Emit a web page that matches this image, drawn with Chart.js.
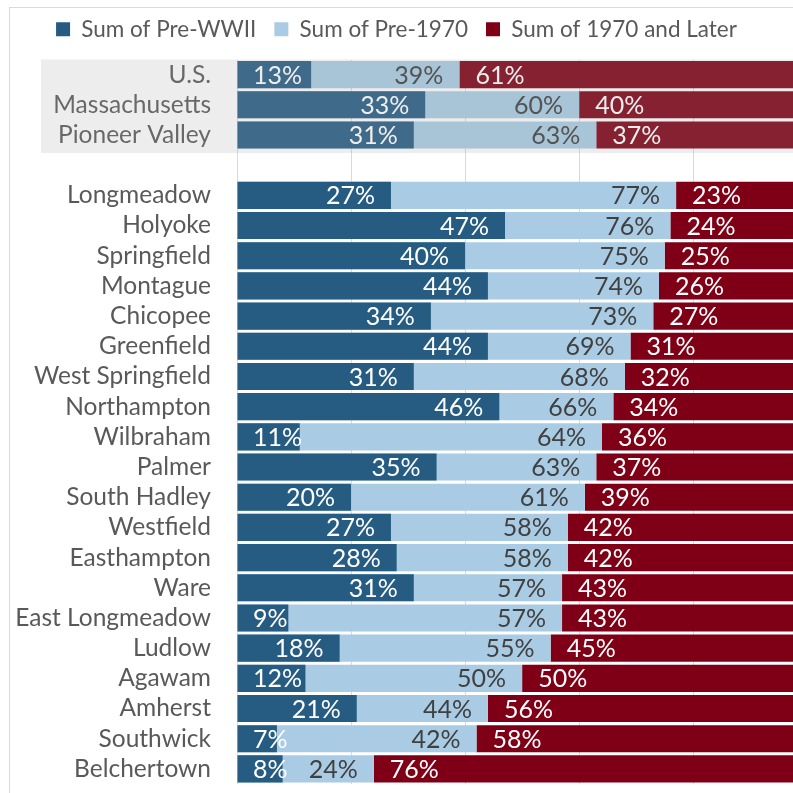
<!DOCTYPE html>
<html lang="en">
<head>
<meta charset="UTF-8">
<title>Housing Age by Community</title>
<style>
  html, body { margin: 0; padding: 0; background: #fff; }
  #wrap { width: 793px; height: 793px; }
</style>
</head>
<body>
<div id="wrap"><canvas id="ageChart" width="793" height="793"></canvas></div>

<script src="https://cdn.jsdelivr.net/npm/chart.js"></script>
<script>
// rows: three summary rows, a spacer, then the communities
const places = ['U.S.', 'Massachusetts', 'Pioneer Valley', '',
  'Longmeadow', 'Holyoke', 'Springfield', 'Montague', 'Chicopee', 'Greenfield',
  'West Springfield', 'Northampton', 'Wilbraham', 'Palmer', 'South Hadley',
  'Westfield', 'Easthampton', 'Ware', 'East Longmeadow', 'Ludlow', 'Agawam',
  'Amherst', 'Southwick', 'Belchertown'];

const preWWII   = [13, 33, 31, null, 27, 47, 40, 44, 34, 44, 31, 46, 11, 35, 20, 27, 28, 31, 9, 18, 12, 21, 7, 8];
const pre1970   = [39, 60, 63, null, 77, 76, 75, 74, 73, 69, 68, 66, 64, 63, 61, 58, 58, 57, 57, 55, 50, 44, 42, 24];
const later1970 = [61, 40, 37, null, 23, 24, 25, 26, 27, 31, 32, 34, 36, 37, 39, 42, 42, 43, 43, 45, 50, 56, 58, 76];

const seriesNames = ['Sum of Pre-WWII', 'Sum of Pre-1970', 'Sum of 1970 and Later'];
const xTicks = [0, 20, 40, 60, 80];
const summaryRows = 3;

const FONT = 'Lato';

// red bar runs from the end of the pre-1970 share to 100%
const laterBars = pre1970.map((v, i) => v == null ? null : [v, v + later1970[i]]);

// frame line + shaded summary block
const decor = {
    id: 'decor',
    beforeDraw(chart) {
        const ctx = chart.ctx;
        ctx.save();
        ctx.strokeStyle = '#D9D9D9';
        ctx.lineWidth = 1;
        ctx.strokeRect(9.5, 7.5, chart.width + 20, chart.height + 20);
        ctx.restore();
    },
    afterDraw(chart) {
        const ctx = chart.ctx;
        const ys = chart.scales.y;
        const band = ys.getPixelForValue(1) - ys.getPixelForValue(0);
        const top = ys.getPixelForValue(0) - band / 2;
        const bottom = ys.getPixelForValue(summaryRows - 1) + band / 2 + 3;
        ctx.save();
        ctx.fillStyle = 'rgba(167,167,167,0.2)';
        ctx.fillRect(41, top, chart.width - 41, bottom - top);
        ctx.restore();
    }
};

// percentage labels, placed like Excel's inside-end / inside-base
const barLabels = {
    id: 'barLabels',
    afterDatasetsDraw(chart) {
        const ctx = chart.ctx;
        const sources = [preWWII, pre1970, later1970];
        const pad = 16;
        const left = chart.chartArea.left;
        ctx.save();
        ctx.font = '25px ' + FONT;
        ctx.textBaseline = 'middle';
        ctx.textAlign = 'left';
        sources.forEach((src, di) => {
            chart.getDatasetMeta(di).data.forEach((bar, i) => {
                const v = src[i];
                if (v == null) return;
                const txt = v + '%';
                const w = ctx.measureText(txt).width;
                let x;
                if (di === 0) {
                    x = Math.max(bar.x - pad - w, left + pad);
                    ctx.fillStyle = '#FFFFFF';
                } else if (di === 1) {
                    x = bar.x - pad - w;
                    ctx.fillStyle = '#404040';
                } else {
                    x = bar.base + pad;
                    ctx.fillStyle = '#FFFFFF';
                }
                ctx.fillText(txt, x, bar.y + 1);
            });
        });
        ctx.restore();
    }
};

new Chart(document.getElementById('ageChart'), {
    type: 'bar',
    data: {
        labels: places,
        datasets: [
            {
                label: seriesNames[0],
                data: preWWII,
                backgroundColor: '#265C82',
                borderWidth: 0,
                grouped: false
            },
            {
                label: seriesNames[1],
                data: pre1970,
                backgroundColor: '#A9CCE4',
                borderWidth: 0,
                grouped: false
            },
            {
                label: seriesNames[2],
                data: laterBars,
                backgroundColor: '#7F0016',
                borderWidth: 0,
                grouped: false
            }
        ]
    },
    options: {
        indexAxis: 'y',
        responsive: false,
        devicePixelRatio: 1,
        animation: false,
        events: [],
        categoryPercentage: 1,
        barPercentage: 0.9,
        layout: { padding: { top: 0, left: 0, right: 0, bottom: 9 } },
        plugins: {
            legend: {
                position: 'top',
                labels: {
                    boxWidth: 14,
                    boxHeight: 14,
                    padding: 18,
                    color: '#595959',
                    font: { family: FONT, size: 22.5 }
                }
            },
            tooltip: { enabled: false }
        },
        scales: {
            x: {
                position: 'top',
                min: 0,
                max: 97.5,
                afterBuildTicks: s => { s.ticks = xTicks.map(v => ({ value: v })); },
                afterFit: s => { s.height = 9; },
                ticks: { display: false },
                grid: { color: '#D9D9D9', drawTicks: false },
                border: { display: false }
            },
            y: {
                afterFit: s => {
                    s.width = 237;
                    s.paddingTop = 0;
                    s.paddingBottom = 0;
                },
                grid: { display: false, drawTicks: false },
                border: { display: false },
                ticks: {
                    autoSkip: false,
                    padding: 26,
                    color: '#595959',
                    font: { family: FONT, size: 24.5 }
                }
            }
        }
    },
    plugins: [decor, barLabels]
});
</script>
</body>
</html>
